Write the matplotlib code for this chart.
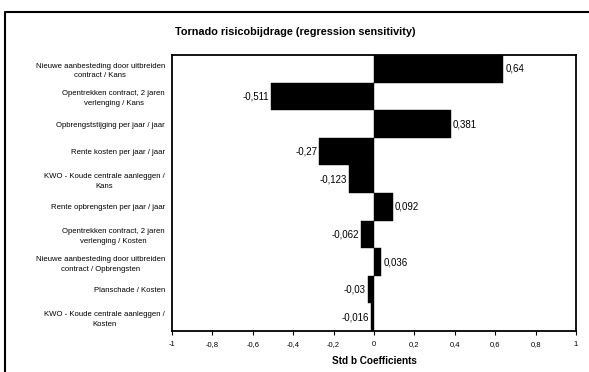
import numpy as np
import matplotlib.pyplot as plt
from matplotlib.lines import Line2D

plt.rcParams['font.family'] = ['Liberation Sans', 'DejaVu Sans']

# regression sensitivity per input (std b coefficients)
labels = [
    "Nieuwe aanbesteding door uitbreiden\ncontract / Kans",
    "Opentrekken contract, 2 jaren\nverlenging / Kans",
    "Opbrengststijging per jaar / jaar",
    "Rente kosten per jaar / jaar",
    "KWO - Koude centrale aanleggen /\nKans",
    "Rente opbrengsten per jaar / jaar",
    "Opentrekken contract, 2 jaren\nverlenging / Kosten",
    "Nieuwe aanbesteding door uitbreiden\ncontract / Opbrengsten",
    "Planschade / Kosten",
    "KWO - Koude centrale aanleggen /\nKosten",
]
coefs = [0.64, -0.511, 0.381, -0.27, -0.123, 0.092, -0.062, 0.036, -0.03, -0.016]
xticks = [-1, -0.8, -0.6, -0.4, -0.2, 0, 0.2, 0.4, 0.6, 0.8, 1]


def komma(v):
    s = ("%.3f" % v).rstrip('0').rstrip('.')
    if s in ("-0", ""):
        s = "0"
    return s.replace('.', ',')


fig = plt.figure(figsize=(5.89, 3.72), dpi=100)
ax = fig.add_axes([0.292, 0.110, 0.686, 0.742])

y = np.arange(len(coefs))
ax.barh(y, coefs, height=1.0, color='black', edgecolor='black', linewidth=0.3)
ax.set_ylim(len(coefs) - 0.5, -0.5)
ax.set_xlim(-1, 1)

for yi, v in zip(y, coefs):
    if v >= 0:
        ax.text(v + 0.01, yi, komma(v), ha='left', va='center', fontsize=7)
    else:
        ax.text(v - 0.01, yi, komma(v), ha='right', va='center', fontsize=7)

ax.set_yticks(y)
ax.set_yticklabels(labels, fontsize=5.6, multialignment='center', linespacing=1.5)
ax.tick_params(axis='y', length=0, pad=5)

ax.set_xticks(xticks)
ax.set_xticklabels([komma(t) for t in xticks], fontsize=5.5)
ax.tick_params(axis='x', length=3, width=0.8, pad=4)
ax.set_xlabel("Std b Coefficients", fontsize=7.2, fontweight='bold', labelpad=6)

for sp in ax.spines.values():
    sp.set_linewidth(1.3)

fig.text(0.502, 0.915, "Tornado risicobijdrage (regression sensitivity)",
         ha='center', va='center', fontsize=7.8, fontweight='bold')

# outer frame, left and top edge
x0 = 5 / 589
y0 = 1 - 12 / 372
fig.add_artist(Line2D([x0, x0, 1], [0, y0, y0], transform=fig.transFigure,
                      color='black', linewidth=1.5))

fig.savefig("out.png", dpi=100)
